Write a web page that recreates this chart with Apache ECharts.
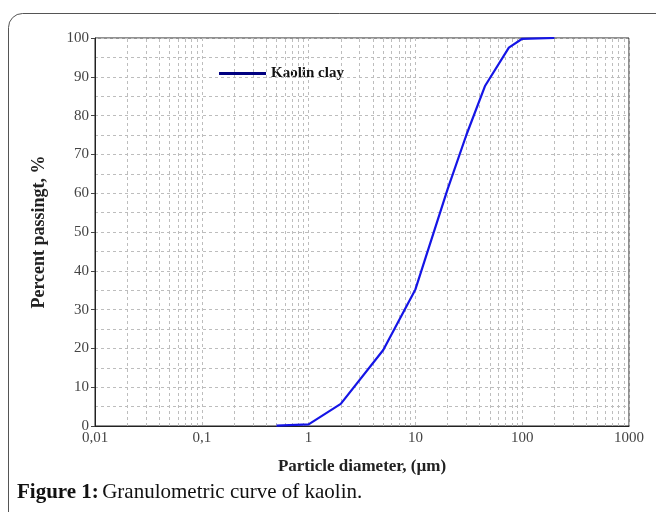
<!DOCTYPE html>
<html>
<head>
<meta charset="utf-8">
<script src="https://cdn.jsdelivr.net/npm/echarts@6/dist/echarts.min.js"></script>
<style>
  html, body { margin: 0; padding: 0; background: #fff; }
  #chart { width: 656px; height: 512px; }
</style>
</head>
<body>
<div id="chart"></div>
<script>
// particle diameter (um) and percent passing
const diameters = [0.5, 1, 2, 5, 10, 20, 30, 45, 75, 100, 200];
const passing = [0.1, 0.4, 5.7, 19.6, 35.2, 61, 75, 87.7, 97.5, 99.8, 100];
const seriesName = 'Kaolin clay';
// minor vertical grid lines at 2..9 of every decade
const decades = [0.01, 0.1, 1, 10, 100];
const minorSteps = [2, 3, 4, 5, 6, 7, 8, 9];

const serif = '"Liberation Serif", "DejaVu Serif", serif';
const gridGray = '#bdbdbd';

const minorLines = [];
decades.forEach(d => minorSteps.forEach(m => minorLines.push({ xAxis: +(d * m).toPrecision(3) })));

const chart = echarts.init(document.getElementById('chart'), null, { renderer: 'canvas' });

chart.setOption({
    animation: false,
    backgroundColor: '#fff',
    grid: {
        left: 95, right: 27, top: 38, bottom: 86,
        show: true, borderColor: '#222', borderWidth: 1, backgroundColor: 'transparent'
    },
    legend: {
        data: [seriesName],
        left: 214, top: 61,
        itemWidth: 47, itemHeight: 3, itemGap: 3,
        icon: 'rect',
        itemStyle: { color: '#000080' },
        textStyle: { fontFamily: serif, fontWeight: 'bold', fontSize: 15, color: '#111' }
    },
    xAxis: {
        type: 'log', logBase: 10, min: 0.01, max: 1000,
        axisLine: { show: true, lineStyle: { color: '#222', width: 1 } },
        axisTick: { show: false },
        axisLabel: {
            fontFamily: serif, fontSize: 15, color: '#444', margin: 5,
            formatter: v => String(+v.toPrecision(3)).replace('.', ',')
        },
        splitLine: { show: true, lineStyle: { color: gridGray, type: [3, 3] } },
        name: 'Particle diameter, (\u00b5m)',
        nameLocation: 'middle', nameGap: 32,
        nameTextStyle: { fontFamily: serif, fontWeight: 'bold', fontSize: 17, color: '#222' }
    },
    yAxis: {
        type: 'value', min: 0, max: 100, interval: 10,
        axisLine: { show: true, lineStyle: { color: '#222', width: 1 } },
        axisTick: { show: true, length: 4, lineStyle: { color: '#444' } },
        axisLabel: { fontFamily: serif, fontSize: 15, color: '#444', margin: 6 },
        splitLine: { show: true, lineStyle: { color: gridGray, type: [3, 3] } },
        minorTick: { show: false, splitNumber: 2 },
        minorSplitLine: { show: true, lineStyle: { color: gridGray, type: [3, 3] } },
        name: 'Percent passingt, %',
        nameLocation: 'middle', nameGap: 47, nameRotate: 90,
        nameTextStyle: { fontFamily: serif, fontWeight: 'bold', fontSize: 18, color: '#222' }
    },
    series: [
        {
            name: 'minor-grid',
            type: 'line',
            data: [],
            silent: true,
            markLine: {
                silent: true,
                symbol: 'none',
                label: { show: false },
                lineStyle: { color: gridGray, type: [3, 3], width: 1 },
                data: minorLines
            }
        },
        {
            name: seriesName,
            type: 'line',
            data: diameters.map((d, i) => [d, passing[i]]),
            showSymbol: false,
            symbol: 'none',
            lineStyle: { color: '#1515e6', width: 2.2 },
            itemStyle: { color: '#1515e6' },
            z: 5
        }
    ],
    graphic: [
        {
            type: 'rect',
            shape: { x: 8.5, y: 13.5, width: 700, height: 560, r: 14 },
            style: { fill: 'none', stroke: '#555', lineWidth: 1 },
            silent: true
        },
        {
            type: 'text',
            left: 17, top: 482,
            style: {
                rich: {
                    b: { fontFamily: serif, fontWeight: 'bold', fontSize: 21, fill: '#111' },
                    n: { fontFamily: serif, fontSize: 21, fill: '#111' }
                },
                text: '{b|Figure 1:} {n|Granulometric curve of kaolin.}'
            }
        }
    ]
});
</script>
</body>
</html>
